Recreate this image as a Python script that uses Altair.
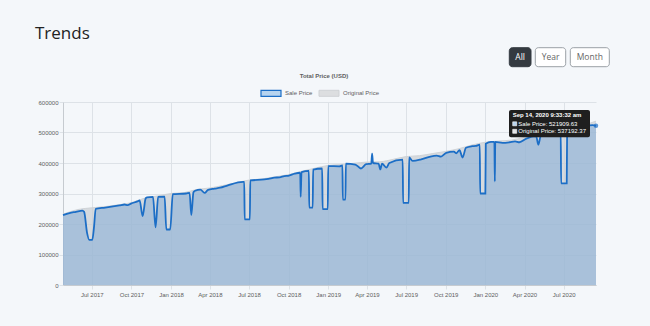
import altair as alt
import pandas as pd

# ---------------- data ----------------
sale_dates = [
    "2017-04-25", "2017-05-10", "2017-05-25", "2017-06-09", "2017-06-13",
    "2017-06-20", "2017-06-25", "2017-07-02", "2017-07-06", "2017-07-10",
    "2017-08-01", "2017-09-03", "2017-09-15", "2017-09-22", "2017-09-30",
    "2017-10-15", "2017-10-20", "2017-10-27", "2017-11-03", "2017-11-06",
    "2017-11-20", "2017-11-26", "2017-12-02", "2017-12-17", "2017-12-21",
    "2017-12-30", "2018-01-05", "2018-02-05", "2018-02-13", "2018-02-17",
    "2018-02-22", "2018-02-26", "2018-03-10", "2018-03-20", "2018-03-28",
    "2018-04-12", "2018-04-25", "2018-05-13", "2018-06-17", "2018-06-20",
    "2018-06-21", "2018-07-03", "2018-07-04", "2018-08-06", "2018-08-15",
    "2018-08-29", "2018-09-10", "2018-09-21", "2018-09-30", "2018-10-15",
    "2018-10-28", "2018-10-29", "2018-10-31", "2018-11-17", "2018-11-18",
    "2018-11-26", "2018-11-27", "2018-12-18", "2018-12-19", "2018-12-31",
    "2019-01-01", "2019-01-27", "2019-02-03", "2019-02-04", "2019-02-10",
    "2019-02-11", "2019-03-05", "2019-03-18", "2019-03-30", "2019-04-11",
    "2019-04-13", "2019-04-15", "2019-04-28", "2019-05-02", "2019-05-06",
    "2019-05-16", "2019-05-23", "2019-06-23", "2019-06-24", "2019-07-07",
    "2019-07-08", "2019-07-16", "2019-08-05", "2019-08-24", "2019-09-10",
    "2019-09-20", "2019-10-02", "2019-10-20", "2019-10-25", "2019-11-02",
    "2019-11-09", "2019-11-17", "2019-12-01", "2019-12-10", "2019-12-19",
    "2019-12-20", "2020-01-01", "2020-01-02", "2020-01-14", "2020-01-22",
    "2020-01-23", "2020-01-24", "2020-02-10", "2020-02-26", "2020-03-10",
    "2020-03-20", "2020-04-05", "2020-04-28", "2020-05-03", "2020-05-09",
    "2020-06-24", "2020-06-25", "2020-07-08", "2020-07-09", "2020-08-10",
    "2020-09-06", "2020-09-14",
]
sale_values = [
    229000, 236000, 240000, 244000, 240000,
    170000, 148000, 148000, 190000, 250000,
    254000, 261000, 264000, 262000, 267000,
    274000, 277000, 226000, 284000, 287000,
    289000, 189000, 289000, 290000, 182000,
    182000, 298000, 300000, 302000, 229000,
    304000, 309000, 313000, 302000, 312000,
    316000, 319000, 327000, 338000, 338000,
    215000, 215000, 343000, 346000, 348000,
    352000, 353000, 357000, 358000, 365000,
    368000, 289000, 370000, 374000, 254000,
    254000, 378000, 382000, 249000, 249000,
    390000, 389000, 392000, 280000, 280000,
    398000, 395000, 382000, 396000, 398000,
    431000, 400000, 398000, 379000, 398000,
    385000, 400000, 411000, 269000, 269000,
    418000, 407000, 412000, 420000, 424000,
    421000, 433000, 437000, 432000, 442000,
    418000, 450000, 455000, 456000, 460000,
    300000, 300000, 463000, 469000, 469000,
    340000, 469000, 466000, 468000, 471000,
    468000, 480000, 488000, 460000, 491000,
    504000, 333000, 333000, 513000, 518000,
    524000, 521909.63,
]

orig_dates = [
    "2017-04-25", "2017-06-01", "2017-07-01", "2017-08-01", "2017-09-01",
    "2017-10-01", "2017-11-01", "2017-12-01", "2018-01-01", "2018-02-01",
    "2018-03-01", "2018-04-01", "2018-05-01", "2018-06-01", "2018-07-01",
    "2018-08-01", "2018-09-01", "2018-10-01", "2018-11-01", "2018-12-01",
    "2019-01-01", "2019-02-01", "2019-03-01", "2019-04-01", "2019-05-01",
    "2019-06-01", "2019-07-01", "2019-08-01", "2019-09-01", "2019-10-01",
    "2019-11-01", "2019-12-01", "2020-01-01", "2020-02-01", "2020-03-01",
    "2020-04-01", "2020-05-01", "2020-06-01", "2020-07-01", "2020-08-01",
    "2020-09-01", "2020-09-14",
]
orig_values = [
    232000, 248000, 253000, 257000, 263000,
    270000, 285000, 292000, 300000, 303000,
    313000, 318000, 326000, 335000, 344000,
    348000, 355000, 362000, 373000, 383000,
    392000, 395000, 399000, 403000, 404000,
    412000, 421000, 424000, 431000, 438000,
    447000, 459000, 468000, 472000, 475000,
    484000, 493000, 501000, 513000, 521000,
    531000, 537192.37,
]

x_ticks = ["2017-07-01", "2017-10-01", "2018-01-01", "2018-04-01", "2018-07-01",
           "2018-10-01", "2019-01-01", "2019-04-01", "2019-07-01", "2019-10-01",
           "2020-01-01", "2020-04-01", "2020-07-01"]
y_ticks = [0, 100000, 200000, 300000, 400000, 500000, 600000]

page_title = "Trends"
plot_title = "Total Price (USD)"
legend_labels = ["Sale Price", "Original Price"]
button_labels = ["All", "Year", "Month"]
tooltip_title = "Sep 14, 2020 9:33:32 am"

# ---------------- helpers ----------------
def dt(s):
    y, m, d = map(int, s.split("-"))
    return alt.DateTime(year=y, month=m, date=d)

sale_df = pd.DataFrame({"date": pd.to_datetime(sale_dates), "value": sale_values})
orig_df = pd.DataFrame({"date": pd.to_datetime(orig_dates), "value": orig_values})
one = pd.DataFrame({"k": [0]})

LABEL_FONT = "Liberation Sans"
UI_FONT = "Open Sans"
GRID = "#dde2e7"
LABEL_COL = "#606060"

x_enc = alt.X(
    "date:T",
    scale=alt.Scale(domain=[dt(sale_dates[0]), dt(sale_dates[-1])]),
    axis=alt.Axis(values=[dt(s) for s in x_ticks], format="%b %Y", title=None,
                  labelFont=LABEL_FONT, labelFontSize=6, labelColor=LABEL_COL,
                  gridColor=GRID, tickColor=GRID, tickSize=4, labelPadding=2,
                  domainColor="#c6cbd0", labelOverlap=False, labelFlush=False),
)
y_enc = alt.Y(
    "value:Q",
    scale=alt.Scale(domain=[0, 600000], nice=False),
    axis=alt.Axis(values=y_ticks, format="d", title=None,
                  labelFont=LABEL_FONT, labelFontSize=6, labelColor=LABEL_COL,
                  gridColor=GRID, tickColor=GRID, tickSize=4, labelPadding=1,
                  domainColor="#c6cbd0"),
)

orig_area = alt.Chart(orig_df).mark_area(
    color="#c9cdd1", opacity=0.7, interpolate="monotone",
    line={"color": "#cfd3d7", "strokeWidth": 1},
).encode(x=x_enc, y=y_enc)

sale_area = alt.Chart(sale_df).mark_area(
    color="#78a6d6", opacity=0.47, interpolate="monotone",
).encode(x=x_enc, y=y_enc)

sale_line = alt.Chart(sale_df).mark_line(
    color="#1c6ec6", strokeWidth=1.8, interpolate="monotone",
).encode(x=x_enc, y=y_enc)

hover_pt = alt.Chart(sale_df.tail(1)).mark_point(
    shape="circle", size=20, filled=True, color="#1c6ec6",
).encode(x=x_enc, y=y_enc)

layers = [orig_area, sale_area, sale_line, hover_pt]

def text_layer(txt, x, y, size, color, font=LABEL_FONT, weight="normal", align="left"):
    return alt.Chart(one).mark_text(
        text=txt, align=align, baseline="middle", fontSize=size, color=color,
        font=font, fontWeight=weight,
    ).encode(x=alt.value(x), y=alt.value(y))

def rect_layer(x, x2, y, y2, fill, stroke=None, sw=0, radius=0):
    kw = dict(fill=fill, cornerRadius=radius, strokeWidth=sw)
    if stroke:
        kw["stroke"] = stroke
    return alt.Chart(one).mark_rect(**kw).encode(
        x=alt.value(x), x2=alt.value(x2), y=alt.value(y), y2=alt.value(y2))

# page title
layers.append(text_layer(page_title, -28, -68, 17, "#222222", font=UI_FONT))

# buttons
btn_pos = [(446.3, 468.0), (472.3, 502.7), (507.3, 546.3)]
for i, (lab, (bx, bx2)) in enumerate(zip(button_labels, btn_pos)):
    if i == 0:
        layers.append(rect_layer(bx, bx2, -54.3, -35.3, "#343a40", "#343a40", 1, 3))
        col = "#ffffff"
    else:
        layers.append(rect_layer(bx, bx2, -54.3, -35.3, "#ffffff", "#9aa0a6", 1, 3))
        col = "#666666"
    layers.append(text_layer(lab, (bx + bx2) / 2, -44.8, 8.5, col, font=UI_FONT, align="center"))

# plot title
layers.append(text_layer(plot_title, 261, -26.5, 6, LABEL_COL, weight="bold", align="center"))

# legend
layers.append(rect_layer(198, 218, -11.7, -5.7, "#b7d4ef", "#1c6ec6", 1.2))
layers.append(text_layer(legend_labels[0], 222, -8.7, 6, LABEL_COL))
layers.append(rect_layer(256, 276, -11.7, -5.7, "#dcdee0", "#cfd2d5", 1))
layers.append(text_layer(legend_labels[1], 280, -8.7, 6, LABEL_COL))

# tooltip
layers.append(rect_layer(446, 527, 8, 35.3, "#1f1f1f", radius=2))
layers.append(text_layer(tooltip_title, 449.7, 13.3, 6, "#ffffff", weight="bold"))
layers.append(rect_layer(449.7, 453.7, 19.8, 23.8, "#b7d4ef", "#ffffff", 0.6))
layers.append(text_layer(f"{legend_labels[0]}: {sale_values[-1]:.2f}", 455.3, 21.9, 6, "#ffffff"))
layers.append(rect_layer(449.7, 453.7, 27.3, 31.3, "#e3e4e6", "#ffffff", 0.6))
layers.append(text_layer(f"{legend_labels[1]}: {orig_values[-1]:.2f}", 455.3, 29.4, 6, "#ffffff"))

chart = alt.layer(*layers).properties(
    width=533, height=183,
    padding={"left": 63, "top": 102, "right": 54, "bottom": 41},
    autosize="none",
    background="#f4f7fa",
).configure_view(stroke=None)

chart.save("out.html", embed_options={"renderer": "svg", "actions": False})
